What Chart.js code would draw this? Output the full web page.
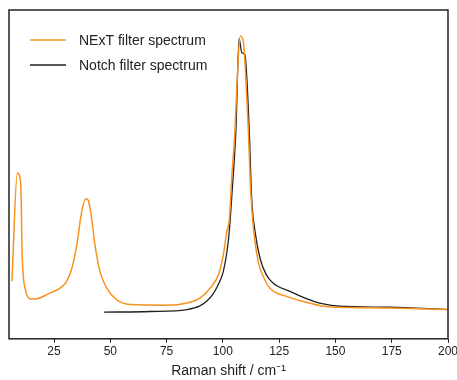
<!DOCTYPE html>
<html>
<head>
<meta charset="utf-8">
<style>
  html, body { margin: 0; padding: 0; background: #fff; }
  #wrap { width: 457px; height: 380px; }
</style>
<script src="https://cdn.jsdelivr.net/npm/chart.js@4.4.1/dist/chart.umd.min.js"></script>
</head>
<body>
<div id="wrap"><canvas id="spectrum"></canvas></div>
<script>
// Raman shift (cm-1) and intensity (arbitrary units)
const nextShift = [6.3, 8.7, 10.2, 10.9, 12.6, 14.3, 16.5, 23.2, 27.7, 30.6, 32.9, 35.1, 37.3, 39.2, 40.2,
    41.7, 43.2, 45.4, 48.4, 52.8, 58.7, 75.2, 84.1, 89.8, 94.3, 98.0, 100.2, 101.7, 102.9, 103.9,
    105.4, 106.3, 107.7, 109.1, 110.0, 111.3, 112.3, 113.6, 115.7, 118.3, 120.9, 128.3, 136.5,
    144.6, 152.0, 174.2, 200];
const nextIntensity = [17.5, 50.4, 47.4, 24.5, 14.2, 12.2, 12.1, 13.9, 15.4, 17.5, 21.4, 28.5, 38.7, 42.6, 42.1,
    36.6, 28.5, 20.5, 15.4, 11.9, 10.4, 10.2, 10.9, 12.4, 15.4, 19.4, 25.5, 32.5, 36.6, 48.6,
    63.7, 78.0, 92.1, 90.4, 81.9, 63.7, 45.6, 33.5, 23.5, 18.4, 15.4, 12.9, 11.2,
    9.9, 9.6, 9.4, 8.9];

const notchShift = [47.2, 67.6, 84.1, 89.8, 92.9, 95.6, 97.8, 100.2, 102.4, 103.3, 103.9, 105.8, 107.2, 108.4,
    109.8, 111.7, 112.8, 114.3, 116.5, 119.2, 122.4, 129.8, 136.5, 144.6, 152.0, 174.2, 200];
const notchIntensity = [8.1, 8.3, 8.9, 10.0, 11.5, 13.6, 16.3, 20.5, 29.6, 36.6, 42.6, 63.7, 91.4, 87.0,
    86.4, 63.7, 42.6, 32.6, 24.5, 19.6, 16.9, 14.4, 12.4, 10.6, 9.9, 9.6, 8.9];

const xTicks = [25, 50, 75, 100, 125, 150, 175, 200];

const FONT = '"Liberation Sans", Arial, Helvetica, sans-serif';
const INK = '#222222';

function toPoints(xs, ys) {
    return xs.map((x, i) => ({ x: x, y: ys[i] }));
}

// box round the plot area
const framePlugin = {
    id: 'frame',
    afterDraw(chart) {
        const a = chart.chartArea;
        const ctx = chart.ctx;
        ctx.save();
        ctx.strokeStyle = INK;
        ctx.lineWidth = 1.5;
        ctx.strokeRect(a.left, a.top, a.right - a.left, a.bottom - a.top);
        ctx.restore();
    }
};

// legend drawn inside the plot, line sample + label
const legendPlugin = {
    id: 'insideLegend',
    afterDraw(chart) {
        const ctx = chart.ctx;
        ctx.save();
        ctx.font = '14px ' + FONT;
        ctx.textBaseline = 'middle';
        chart.data.datasets.forEach((ds, i) => {
            const y = 40 + i * 25;
            ctx.strokeStyle = ds.borderColor;
            ctx.lineWidth = 1.5;
            ctx.beginPath();
            ctx.moveTo(30, y);
            ctx.lineTo(66, y);
            ctx.stroke();
            ctx.fillStyle = INK;
            ctx.fillText(ds.label, 79, y + 1);
        });
        ctx.restore();
    }
};

new Chart(document.getElementById('spectrum'), {
    type: 'line',
    data: {
        datasets: [{
            label: 'NExT filter spectrum',
            data: toPoints(nextShift, nextIntensity),
            borderColor: '#F7931E',
            borderWidth: 1.5,
            pointRadius: 0,
            cubicInterpolationMode: 'monotone',
            fill: false
        }, {
            label: 'Notch filter spectrum',
            data: toPoints(notchShift, notchIntensity),
            borderColor: '#231F20',
            borderWidth: 1.3,
            pointRadius: 0,
            cubicInterpolationMode: 'monotone',
            fill: false
        }]
    },
    options: {
        responsive: true,
        maintainAspectRatio: false,
        animation: false,
        layout: { padding: { left: 9, right: 9, top: 10, bottom: 0 } },
        plugins: {
            legend: { display: false },
            tooltip: { enabled: false }
        },
        scales: {
            x: {
                type: 'linear',
                min: 5,
                max: 200,
                afterBuildTicks: scale => {
                    scale.ticks = xTicks.map(v => ({ value: v }));
                },
                afterFit: scale => {
                    // let the last label hang over the edge like in the original
                    scale.paddingLeft = 0;
                    scale.paddingRight = 0;
                },
                grid: {
                    drawOnChartArea: false,
                    drawTicks: true,
                    tickLength: 4,
                    color: INK
                },
                border: { display: false },
                ticks: {
                    color: INK,
                    padding: 2,
                    maxRotation: 0,
                    autoSkip: false,
                    font: { family: FONT, size: 12 }
                },
                title: {
                    display: true,
                    text: 'Raman shift / cm\u207B\u00B9',
                    color: INK,
                    padding: { top: 2, bottom: 0 },
                    font: { family: FONT, size: 14 }
                }
            },
            y: {
                display: false,
                min: 0,
                max: 100
            }
        }
    },
    plugins: [framePlugin, legendPlugin]
});
</script>
</body>
</html>
